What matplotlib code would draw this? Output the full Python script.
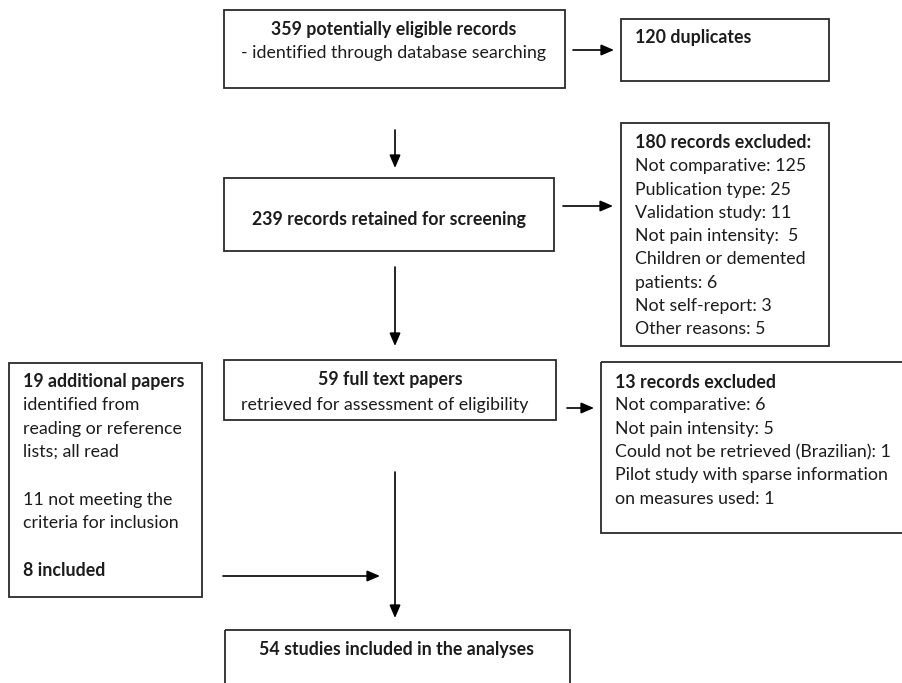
import matplotlib
matplotlib.use("Agg")
import matplotlib.pyplot as plt
from matplotlib.patches import Rectangle

plt.rcParams['font.family'] = ['Lato', 'DejaVu Sans']

# ---- data (texts and counts) ----
n_identified = 359
n_duplicates = 120
n_screened = 239
n_excluded_screen = 180
excl_screen_reasons = ["Not comparative: 125", "Publication type: 25", "Validation study: 11",
                       "Not pain intensity:  5", "Children or demented", "patients: 6",
                       "Not self-report: 3", "Other reasons: 5"]
n_fulltext = 59
n_excluded_full = 13
excl_full_reasons = ["Not comparative: 6", "Not pain intensity: 5",
                     "Could not be retrieved (Brazilian): 1",
                     "Pilot study with sparse information", "on measures used: 1"]
n_additional = 19
additional_lines = ["identified from", "reading or reference", "lists; all read"]
n_not_meeting = 11
n_add_included = 8
n_included = 54

FS = 12.8
EDGE = '#2a2a2a'
TXT = '#1c1c1c'

fig = plt.figure(figsize=(9.03, 6.83), dpi=100)
ax = fig.add_axes([0, 0, 1, 1])
ax.set_xlim(0, 903)
ax.set_ylim(683, 0)
ax.axis('off')


def box(x0, y0, x1, y1):
    ax.add_patch(Rectangle((x0, y0), x1 - x0, y1 - y0, fill=False,
                           edgecolor=EDGE, lw=1.3, clip_on=False))


def txt(x, y, s, bold=False, ha='left'):
    ax.text(x, y, s, fontsize=FS, fontweight='bold' if bold else 'normal',
            ha=ha, va='center', color=TXT)


def arrow(x0, y0, x1, y1):
    ax.annotate('', xy=(x1, y1), xytext=(x0, y0),
                arrowprops=dict(arrowstyle='-|>,head_length=0.7,head_width=0.3',
                                lw=1.2, color='black', shrinkA=0, shrinkB=0,
                                mutation_scale=11))


# Box 1
box(224, 10, 565, 88)
txt(394, 30, f"{n_identified} potentially eligible records", bold=True, ha='center')
txt(394, 53, "- identified through database searching", ha='center')

# Duplicates
box(621, 19, 829, 81)
txt(635, 37, f"{n_duplicates} duplicates", bold=True)

# Screening
box(224, 178, 554, 251)
txt(389, 220, f"{n_screened} records retained for screening", bold=True, ha='center')

# Excluded at screening
box(621, 123, 829, 346)
sp = 23.3
txt(635, 143, f"{n_excluded_screen} records excluded:", bold=True)
for i, s in enumerate(excl_screen_reasons):
    txt(635, 143 + sp * (i + 1), s)

# Full text
box(224, 360, 556, 420)
txt(390, 380, f"{n_fulltext} full text papers", bold=True, ha='center')
txt(385, 405, "retrieved for assessment of eligibility", ha='center')

# Excluded full text
box(601, 362, 906, 533)
txt(615, 382, f"{n_excluded_full} records excluded", bold=True)
for i, s in enumerate(excl_full_reasons):
    txt(615, 382 + sp * (i + 1), s)

# Additional papers (left)
box(9, 363, 202, 597)
txt(23, 382, f"{n_additional} additional papers", bold=True)
for i, s in enumerate(additional_lines):
    txt(23, 382 + sp * (i + 1), s)
txt(23, 500, f"{n_not_meeting} not meeting the")
txt(23, 523, "criteria for inclusion")
txt(23, 570, f"{n_add_included} included", bold=True)

# Included
box(225, 630, 570, 700)
txt(397, 650, f"{n_included} studies included in the analyses", bold=True, ha='center')

# Arrows
arrow(573, 50, 614, 50)
arrow(395, 130, 395, 168)
arrow(563, 206, 613, 206)
arrow(395, 267, 395, 346)
arrow(567, 408, 594, 408)
arrow(395, 472, 395, 618)
arrow(223, 576, 380, 576)

fig.savefig("out.png", dpi=100)
